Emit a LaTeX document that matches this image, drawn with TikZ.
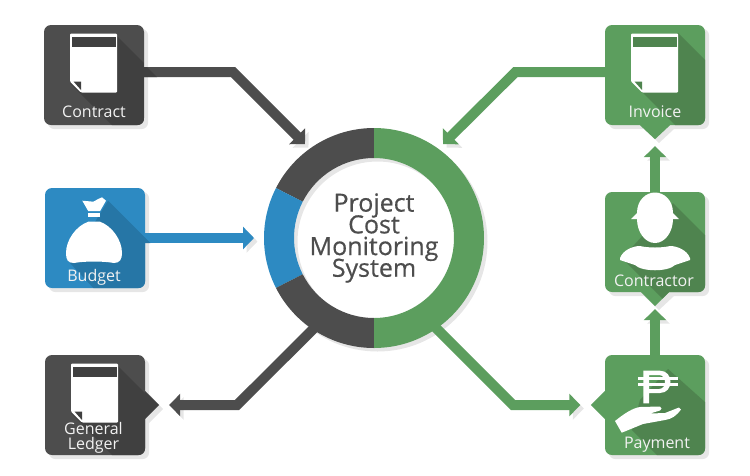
\documentclass[tikz,border=0pt]{standalone}
\usepackage{fontspec}
\setmainfont{Open Sans}
\newfontfamily\hubfont[FakeBold=0.5]{Open Sans}
\usetikzlibrary{arrows.meta,backgrounds}

\definecolor{slate}{HTML}{4D4D4D}
\definecolor{slatedark}{HTML}{404040}
\definecolor{azure}{HTML}{2D8AC2}
\definecolor{azuredark}{HTML}{2676A6}
\definecolor{leaf}{HTML}{5C9E5E}
\definecolor{leafdark}{HTML}{4F844F}
\definecolor{shadowgray}{HTML}{E6E6E6}

% lines closer than the font allows
\newcommand{\tightlines}{\lineskiplimit-50pt\relax}
% darker fold across a tile
\newcommand{\tileshade}[3]{
	\begin{scope}
		\clip[rounded corners=7pt] (#1.south west) rectangle (#1.north east);
		\fill[#2] #3;
	\end{scope}
}
% sheet of paper on a tile
\newcommand{\sheeticon}[3]{
	\begin{scope}[shift={(#1.center)}]
		\fill[white, rounded corners=1pt] (-24,-41.5) -- (23,-41.5) -- (23,17.5) -- (-13,17.5) -- (-24,6.5) -- cycle;
		\fill[#2] (-22,-38.5) rectangle (21.5,-28.5);
		\fill[#3] (-20.5,6.5) -- (-13,6.5) -- (-13,15) -- cycle;
	\end{scope}
}
% one part of the ring
\newcommand{\ringpart}[3]{
	\fill[#3] ([shift={(#1:110pt)}]hub.center) arc[start angle=#1, end angle=#2, radius=110pt]
		-- ([shift={(#2:80pt)}]hub.center) arc[start angle=#2, end angle=#1, radius=80pt] -- cycle;
}

\begin{document}
\begin{tikzpicture}[
		x=1pt, y=-1pt,
		tile/.style={rectangle, rounded corners=7pt, minimum size=100pt, inner sep=0pt, fill=#1},
		tilename/.style={text=white!95!black, font=\fontsize{16}{14.7}\selectfont\tightlines, align=center, inner sep=0pt},
		wire/.style={line width=10pt, draw=#1, line join=miter, -{Triangle[length=11pt, width=22pt]},
			preaction={draw=shadowgray, transform canvas={shift={(3.5pt,-3.5pt)}}, -{Triangle[length=11pt, width=22pt]}}},
	]
	\useasboundingbox (0,0) rectangle (750,475);

	\node[circle, minimum size=220pt, inner sep=0pt, align=center, text=slate, font=\hubfont\fontsize{25}{21.7}\selectfont\tightlines] (hub) at (374,238) {Project\\Cost\\Monitoring\\System};

	\node[tile=slate] (contract) at (94,75) {};
	\node[tile=azure] (budget) at (95,238) {};
	\node[tile=slate] (ledger) at (95,405) {};
	\node[tile=leaf] (invoice) at (655,75) {};
	\node[tile=leaf] (contractor) at (655,242) {};
	\node[tile=leaf] (payment) at (655,405) {};

	\coordinate (contractbend) at (233,72);
	\coordinate (invoicebend) at (515.5,72);
	\coordinate (ledgerbend) at (237,405);
	\coordinate (paymentbend) at (513,405);

	\begin{scope}[on background layer]
		\foreach \tilename in {contract,budget,ledger,invoice,contractor,payment}
			\fill[shadowgray, rounded corners=7pt] ([shift={(4pt,-4pt)}]\tilename.south west) rectangle ([shift={(4pt,-4pt)}]\tilename.north east);
		% tab shadows
		\fill[shadowgray] (149,394) -- (163,409) -- (149,423) -- cycle;
		\fill[shadowgray] (644,129) -- (659,143) -- (674,129) -- cycle;
		\fill[shadowgray] (644,296) -- (659,310) -- (674,296) -- cycle;
		% ring shadow
		\fill[shadowgray, even odd rule] ([shift={(3.5pt,-3.5pt)}]hub.center) circle[radius=110pt] ([shift={(3.5pt,-3.5pt)}]hub.center) circle[radius=80pt];

		\draw[wire=slate] ([yshift=3pt]contract.east) -- (contractbend) -- ([shift={(126.3:116.6pt)}]hub.center);
		\draw[wire=azure] (budget.east) -- ([xshift=-120pt]hub.center);
		\draw[wire=slate] ([shift={(237:103pt)}]hub.center) -- (ledgerbend) -- ([xshift=24pt]ledger.east);
		\draw[wire=leaf] ([yshift=3pt]invoice.west) -- (invoicebend) -- ([shift={(53.7:116.6pt)}]hub.center);
		\draw[wire=leaf] ([shift={(303.7:101pt)}]hub.center) -- (paymentbend) -- ([xshift=-24.5pt]payment.west);
		\draw[wire=leaf] (contractor.north) -- ([yshift=-21pt]invoice.south);
		\draw[wire=leaf] (payment.north) -- ([yshift=-17pt]contractor.south);

		\ringpart{90}{153}{slate}
		\ringpart{153}{207}{azure}
		\ringpart{207}{270}{slate}
		\ringpart{-90}{90}{leaf}
	\end{scope}

	% tabs
	\fill[slatedark] ([yshift=14pt]ledger.east) -- ([xshift=14pt]ledger.east) -- ([yshift=-14pt]ledger.east) -- cycle;
	\fill[leaf] ([xshift=-15pt]invoice.south) -- ([yshift=-14pt]invoice.south) -- ([xshift=15pt]invoice.south) -- cycle;
	\fill[leaf] ([xshift=-14pt]contractor.south) -- ([yshift=-14pt]contractor.south) -- ([xshift=14pt]contractor.south) -- cycle;
	\fill[leaf] ([yshift=14pt]payment.west) -- ([xshift=-14pt]payment.west) -- ([yshift=-14pt]payment.west) -- cycle;

	% folds
	\tileshade{contract}{slatedark}{(116,35) -- (144,63) -- (144,125) -- (112,125) -- (70,83) -- cycle}
	\fill[slatedark] (144,67) -- (147,67) -- (157,77) -- (144,77) -- cycle;
	\tileshade{budget}{azuredark}{(108,200.7) -- (145,237.7) -- (145,288) -- (93.3,288) -- (70,263) -- cycle}
	\fill[azuredark] (145,237.7) -- (150.3,243) -- (145,243) -- cycle;
	\tileshade{ledger}{slatedark}{(117,365) -- (145,393) -- (145,455) -- (112,455) -- (71,413) -- cycle}
	\tileshade{invoice}{leafdark}{(678,33) -- (705,60) -- (705,125) -- (675,125) -- (632,82) -- cycle}
	\tileshade{contractor}{leafdark}{(673,203) -- (705,235) -- (705,292) -- (656,292) -- (622,258) -- cycle}
	\fill[leafdark] (656,292) -- (669,292) -- (662.5,298.5) -- cycle;
	\tileshade{payment}{leafdark}{(668,369) -- (705,402) -- (705,455) -- (657,455) -- (632,430) -- (640,400) -- cycle}

	% icons
	\sheeticon{contract}{slatedark}{slatedark}
	\sheeticon{ledger}{slatedark}{slatedark}
	\sheeticon{invoice}{leafdark}{leafdark}

	% bag
	\fill[white] (88.3,221.7) .. controls (76,226) and (66,240) .. (66,253) .. controls (66,260) and (68,263) .. (74,263) .. controls (85,261) and (103,261) .. (114,263) .. controls (120,263) and (122,259) .. (122,253) .. controls (122,240) and (112,226) .. (100,221.7) -- cycle;
	\fill[white] (88.3,212.7) rectangle (100,217.3);
	\fill[white] (82.3,200.7) -- (93.3,201.7) .. controls (97,200) and (99,198) .. (102,197.3) -- (106,200.7) -- (100,211.2) -- (88.3,211.2) -- cycle;

	% hard hat and shoulders
	\fill[white] (631,219) -- (637,213) .. controls (637,200) and (646,192.5) .. (655,192.5) .. controls (664,192.5) and (673,200) .. (673,213) -- (679,219) -- cycle;
	\fill[white] (637,219) .. controls (637,232) and (645,243) .. (655,243) .. controls (665,243) and (673,232) .. (673,219) -- cycle;
	\fill[white] (620,258) .. controls (623,250) and (633,246) .. (640,246) .. controls (648,248) and (662,248) .. (670,246) .. controls (677,246) and (687,250) .. (690,258) -- (690,260) -- (675,265) .. controls (668,272) and (642,272) .. (635,265) -- (620,260) -- cycle;

	% peso sign and hand
	\fill[white, even odd rule] (643.3,370.7) -- (660,370.7) .. controls (674,370.7) and (674,393) .. (660,393) -- (649,393) -- (649,403.3) -- (643.3,403.3) -- cycle
		(649,375) -- (659,375) .. controls (667,375) and (667,389) .. (659,389) -- (649,389) -- cycle;
	\fill[white] (638,377) rectangle (678,379.5);
	\fill[white] (638,383) rectangle (678,385.5);
	\fill[white] (615,421) .. controls (625,413) and (633,408) .. (640,407) -- (660,406.5) .. controls (662,407) and (662,410) .. (660,410.5) -- (650,413.5) -- (665,413) -- (679,407.5) -- (681,409.5) .. controls (676,416) and (672,419) .. (665,420) -- (643,424) -- (621.7,432.7) -- cycle;

	% names
	\node[tilename, anchor=base] (contractname) at (94,117.3) {Contract};
	\node[tilename, anchor=base] (budgetname) at (94,281.7) {Budget};
	\node[tilename] (ledgername) at (93.5,438) {General\\Ledger};
	\node[tilename, anchor=base] (invoicename) at (655,117.3) {Invoice};
	\node[tilename, anchor=base] (contractorname) at (654,286) {Contractor};
	\node[tilename, anchor=base] (paymentname) at (657,448) {Payment};
\end{tikzpicture}
\end{document}
